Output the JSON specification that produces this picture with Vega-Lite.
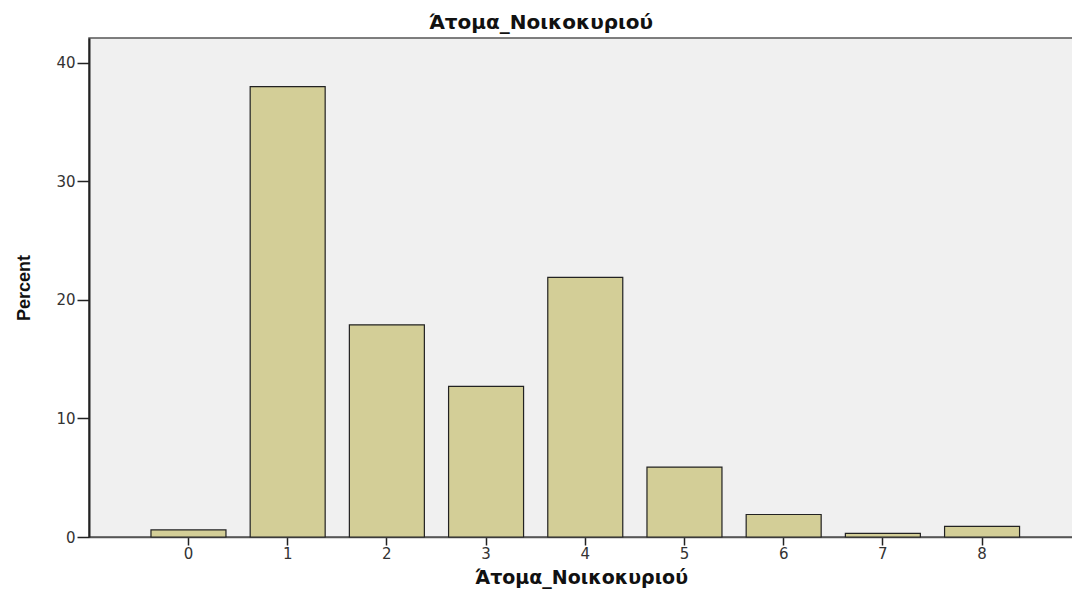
{
  "$schema": "https://vega.github.io/schema/vega-lite/v6.json",
  "width": 984,
  "height": 499,
  "autosize": {"type": "none"},
  "padding": {"left": 89, "top": 38, "right": 0, "bottom": 57},
  "background": "white",
  "title": {
    "text": "Άτομα_Νοικοκυριού",
    "font": "DejaVu Sans",
    "fontSize": 20,
    "fontWeight": "bold",
    "color": "#111111",
    "anchor": "middle",
    "frame": "group",
    "dx": -40,
    "offset": 5
  },
  "config": {
    "view": {"fill": "#F0F0F0", "stroke": "#555555", "strokeWidth": 1.5}
  },
  "data": {
    "values": [
      {"persons": "0", "percent": 0.6},
      {"persons": "1", "percent": 38.0},
      {"persons": "2", "percent": 17.9},
      {"persons": "3", "percent": 12.7},
      {"persons": "4", "percent": 21.9},
      {"persons": "5", "percent": 5.9},
      {"persons": "6", "percent": 1.9},
      {"persons": "7", "percent": 0.3},
      {"persons": "8", "percent": 0.9}
    ]
  },
  "mark": {"type": "bar", "fill": "#D3CE97", "stroke": "#222222", "strokeWidth": 1.2},
  "encoding": {
    "x": {
      "field": "persons",
      "type": "ordinal",
      "sort": null,
      "scale": {"paddingInner": 0.244, "paddingOuter": 0.5817, "align": 0.537},
      "axis": {
        "title": "Άτομα_Νοικοκυριού",
        "titleFont": "DejaVu Sans",
        "titleFontSize": 19,
        "titleFontWeight": "bold",
        "titleColor": "#111111",
        "titlePadding": 7,
        "labelFont": "DejaVu Sans",
        "labelFontSize": 15,
        "labelColor": "#333333",
        "labelAngle": 0,
        "labelPadding": 1,
        "tickSize": 8,
        "tickColor": "#222222",
        "tickWidth": 1.5,
        "domainColor": "#555555",
        "domainWidth": 1.5,
        "grid": false
      }
    },
    "y": {
      "field": "percent",
      "type": "quantitative",
      "scale": {"domain": [0, 42.1], "nice": false, "zero": true},
      "axis": {
        "title": "Percent",
        "titleFont": "Liberation Sans",
        "titleFontSize": 18,
        "titleFontWeight": "bold",
        "titleColor": "#111111",
        "titlePadding": 22,
        "values": [0, 10, 20, 30, 40],
        "labelFont": "DejaVu Sans",
        "labelFontSize": 15,
        "labelColor": "#333333",
        "labelPadding": 2,
        "tickSize": 12,
        "tickColor": "#222222",
        "tickWidth": 1.5,
        "domainColor": "#222222",
        "domainWidth": 2,
        "grid": false
      }
    }
  }
}
